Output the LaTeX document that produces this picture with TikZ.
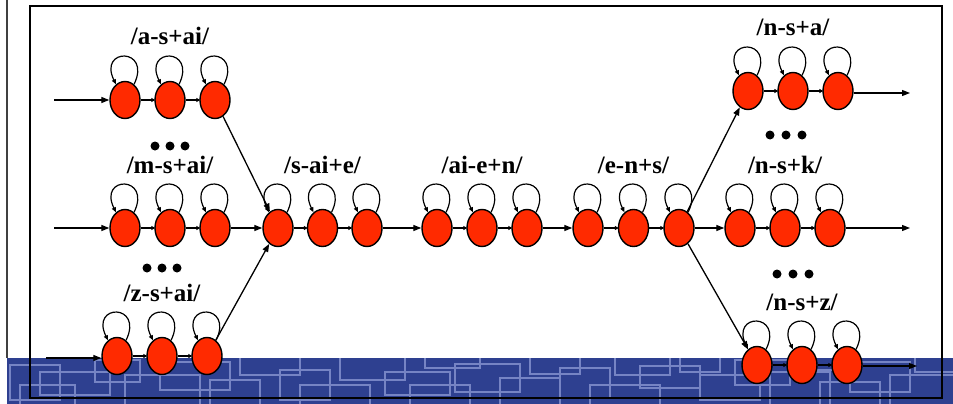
\documentclass[tikz,border=0pt]{standalone}
\usepackage{fontspec}
\setmainfont{Liberation Serif}
\usetikzlibrary{shapes.geometric,arrows.meta,calc}
\definecolor{stred}{RGB}{255,42,0}
\definecolor{bandblue}{RGB}{46,64,144}
\definecolor{bandline}{RGB}{118,132,196}
\tikzset{
  st/.style={ellipse,draw=black,line width=1.4pt,fill=stred,minimum width=30pt,minimum height=37pt,inner sep=0pt},
  lab/.style={font=\fontsize{25}{30}\selectfont\bfseries,anchor=base,inner sep=0pt},
  ar/.style={line width=1.3pt,-{Triangle[length=8pt,width=6pt]}},
  sar/.style={line width=1.3pt,-{Triangle[length=4pt,width=4pt]},shorten >=-1pt},
  lp/.style={line width=1.2pt,-{Triangle[length=5pt,width=4pt]}},
  dotn/.style={circle,fill=black,inner sep=0pt,minimum size=9pt},
  frame/.style={line width=2.4pt,draw=black},
}
\newcommand\hmmgrp[5]{% prefix, x1, spacing, y, label
  \node[st] (#1-1) at (#2,#4) {};
  \node[st] (#1-2) at (#2+#3,#4) {};
  \node[st] (#1-3) at (#2+2*#3,#4) {};
  \node[lab] (#1-l) at (#2+#3,#4-55) {#5};
  \foreach \k in {1,2,3}{
    \draw[lp] (#1-\k.60) .. controls +(18,-37) and +(-18,-37) .. (#1-\k.120);
  }
  \draw[sar] (#1-1) -- (#1-2);
  \draw[sar] (#1-2) -- (#1-3);
}
\begin{document}
\begin{tikzpicture}[x=1pt,y=-1pt]
\useasboundingbox (0,0) rectangle (953,404);
% bottom band
\fill[bandblue] (7,358) rectangle (953,404);
\begin{scope}
\clip (7,358) rectangle (953,404);
\draw[bandline,line width=2.6pt]
 (10,365) rectangle (60,400)
 (40,372) rectangle (110,395)
 (20,385) rectangle (75,420)
 (95,360) rectangle (140,382)
 (125,375) rectangle (200,410)
 (160,362) rectangle (230,390)
 (210,380) rectangle (260,420)
 (240,352) rectangle (300,375)
 (280,370) rectangle (330,400)
 (300,385) rectangle (370,420)
 (340,352) rectangle (405,380)
 (385,372) rectangle (450,395)
 (410,385) rectangle (470,420)
 (425,350) rectangle (480,368)
 (455,364) rectangle (520,392)
 (500,378) rectangle (560,420)
 (530,350) rectangle (580,374)
 (560,368) rectangle (610,398)
 (590,385) rectangle (660,420)
 (615,350) rectangle (670,375)
 (640,366) rectangle (700,388)
 (680,350) rectangle (720,372)
 (700,375) rectangle (760,400)
 (735,360) rectangle (790,385)
 (770,372) rectangle (830,420)
 (800,350) rectangle (860,370)
 (820,382) rectangle (880,405)
 (850,362) rectangle (910,392)
 (890,375) rectangle (960,420)
 (915,350) rectangle (960,372);
\end{scope}
% left vertical line
\draw[black!75,line width=1.5pt] (7,0) -- (7,358);
% frame
\draw[frame] (30,6) rectangle (942,398);
% groups
\hmmgrp{a}{125}{45}{100}{/a-s+ai/}
\hmmgrp{m}{125}{45}{228}{/m-s+ai/}
\hmmgrp{z}{117}{45}{356}{/z-s+ai/}
\hmmgrp{s}{278}{44.5}{228}{/s-ai+e/}
\hmmgrp{i}{437}{45}{228}{/ai-e+n/}
\hmmgrp{e}{588}{45.5}{228}{/e-n+s/}
\hmmgrp{p}{748}{45}{91}{/n-s+a/}
\hmmgrp{k}{740}{45}{228}{/n-s+k/}
\hmmgrp{q}{757}{45}{365}{/n-s+z/}
% dots
\node[dotn] (d1a) at (155,146) {};
\node[dotn] (d1b) at (170,146) {};
\node[dotn] (d1c) at (185,146) {};
\node[dotn] (d2a) at (147,268) {};
\node[dotn] (d2b) at (162,268) {};
\node[dotn] (d2c) at (177,268) {};
\node[dotn] (d3a) at (770,135) {};
\node[dotn] (d3b) at (786,135) {};
\node[dotn] (d3c) at (802,135) {};
\node[dotn] (d4a) at (777,274) {};
\node[dotn] (d4b) at (793,274) {};
\node[dotn] (d4c) at (809,274) {};
% inputs / outputs
\coordinate (ina) at (54,100);
\coordinate (inm) at (54,228);
\coordinate (inz) at (46,358);
\coordinate (outp) at (910,93);
\coordinate (outk) at (910,228);
\coordinate (outq) at (917,366);
\draw[ar] (ina) -- (a-1);
\draw[ar] (inm) -- (m-1);
\draw[ar] (inz) -- (z-1.west |- inz);
\draw[ar] (p-3.east |- outp) -- (outp);
\draw[ar] (k-3) -- (outk);
\draw[ar] (q-3.east |- outq) -- (outq);
% connectors
\draw[ar] (a-3) -- (s-1);
\draw[ar] (m-3) -- (s-1);
\draw[ar] (z-3) -- (s-1);
\draw[ar] (s-3) -- (i-1);
\draw[ar] (i-3) -- (e-1);
\draw[ar] (e-3) -- (p-1);
\draw[ar] (e-3) -- (k-1);
\draw[ar] (e-3) -- (q-1);
\end{tikzpicture}
\end{document}
